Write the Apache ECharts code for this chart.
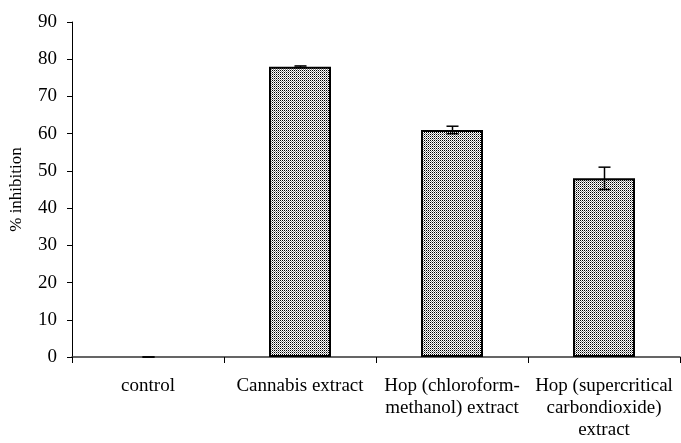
<!DOCTYPE html>
<html>
<head>
<meta charset="utf-8">
<script src="https://cdn.jsdelivr.net/npm/echarts@6/dist/echarts.min.js"></script>
<style>html,body{margin:0;padding:0;background:#fff;}#c{width:681px;height:443px;}</style>
</head>
<body>
<div id="c"></div>
<script>
var categories = ['control', 'Cannabis extract', 'Hop (chloroform-\nmethanol) extract', 'Hop (supercritical\ncarbondioxide)\nextract'];
var values = [0, 78, 61, 48];
var errors = [0, 0.2, 1, 3];
var yTicks = [0, 10, 20, 30, 40, 50, 60, 70, 80, 90];

var pc = document.createElement('canvas');
pc.width = 2; pc.height = 2;
var ctx = pc.getContext('2d');
ctx.fillStyle = '#ffffff'; ctx.fillRect(0, 0, 2, 2);
ctx.fillStyle = '#000000'; ctx.fillRect(0, 0, 1, 1);
ctx.fillStyle = '#8a8a8a'; ctx.fillRect(1, 1, 1, 1);

var chart = echarts.init(document.getElementById('c'), null, {renderer: 'canvas'});
var font = '"Liberation Serif", "Times New Roman", serif';
chart.setOption({
  animation: false,
  backgroundColor: '#fff',
  grid: {left: 72, top: 22, right: 1, bottom: 86, containLabel: false, outerBoundsMode: 'none'},
  xAxis: {
    type: 'category',
    data: categories,
    axisLine: {lineStyle: {color: '#333', width: 1.5}},
    axisTick: {show: true, length: 6, lineStyle: {color: '#000'}, alignWithLabel: false},
    axisLabel: {color: '#000', fontFamily: font, fontSize: 19, margin: 18, lineHeight: 22, interval: 0}
  },
  yAxis: {
    type: 'value',
    min: yTicks[0], max: yTicks[yTicks.length - 1], interval: 10,
    name: '% inhibition',
    nameLocation: 'middle',
    nameGap: 47,
    nameRotate: 90,
    nameTextStyle: {color: '#000', fontFamily: font, fontSize: 17},
    axisLine: {show: true, lineStyle: {color: '#000', width: 1}},
    axisTick: {show: true, length: 5, lineStyle: {color: '#000'}},
    axisLabel: {color: '#000', fontFamily: font, fontSize: 19, margin: 15},
    splitLine: {show: false}
  },
  series: [
    {
      type: 'bar',
      data: values.map(function (v) { return v === 0 ? {value: v, itemStyle: {borderWidth: 0}} : v; }),
      barWidth: 62,
      itemStyle: {
        color: {image: pc, repeat: 'repeat'},
        borderColor: '#000',
        borderWidth: 2
      }
    },
    {
      type: 'custom',
      data: values.map(function (v, i) { return [i, v - errors[i], v + errors[i]]; }),
      renderItem: function (params, api) {
        var lo = api.coord([api.value(0), api.value(1)]);
        var hi = api.coord([api.value(0), api.value(2)]);
        var x = Math.round(lo[0]) + 0.5;
        var hw = 6;
        var st = {stroke: '#000', lineWidth: 1.5};
        return {
          type: 'group',
          children: [
            {type: 'line', shape: {x1: x, y1: lo[1], x2: x, y2: hi[1]}, style: st},
            {type: 'line', shape: {x1: x - hw, y1: lo[1], x2: x + hw, y2: lo[1]}, style: st},
            {type: 'line', shape: {x1: x - hw, y1: hi[1], x2: x + hw, y2: hi[1]}, style: st}
          ]
        };
      },
      z: 10
    }
  ]
});
</script>
</body>
</html>
